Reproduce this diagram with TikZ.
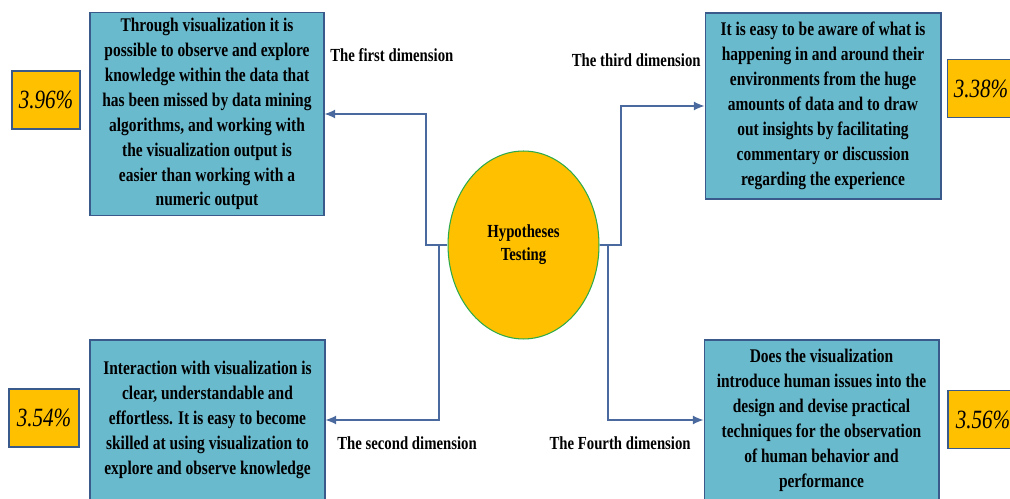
\documentclass[tikz,border=0pt]{standalone}
\usepackage{fontspec}
\setmainfont{Liberation Serif}[FakeStretch=0.8]
\usetikzlibrary{arrows.meta}
\usetikzlibrary{positioning}
\usetikzlibrary{shapes.geometric}

\definecolor{boxblue}{RGB}{106,186,206}
\definecolor{boxedge}{RGB}{59,90,140}
\definecolor{gold}{RGB}{255,192,0}
\definecolor{ringgreen}{RGB}{46,170,74}
\definecolor{linkblue}{RGB}{74,106,159}

\tikzset{
    dimbox/.style={
        rectangle, draw=boxedge, semithick,
        fill=boxblue, align=center,
        font=\fontsize{11}{14.2}\selectfont\bfseries,
    },
    scorebox/.style={
        rectangle, draw=boxedge, semithick,
        fill=gold, minimum width=1.4cm, minimum height=1.16cm,
        font=\fontsize{15}{18}\selectfont\itshape,
    },
    dimlabel/.style={
        inner sep=0pt,
        font=\fontsize{10.5}{12}\selectfont\bfseries,
    },
    link/.style={
        draw=linkblue, semithick,
        -{Latex[length=6pt,width=5pt]},
    },
}

\begin{document}
\begin{tikzpicture}[x=0.02cm, y=-0.02cm]
        \useasboundingbox (0,0) rectangle (1010,499);

        % centre
        \node (hyp) at(523.5,245) [
            ellipse, draw=ringgreen, semithick,
            fill=gold,
            minimum width=3.02cm, minimum height=3.76cm,
            font=\fontsize{10.5}{13}\selectfont\bfseries, align=center,
        ] {Hypotheses\\Testing};

        % dimensions
        \node (first) at(207,114) [
            dimbox, minimum width=4.68cm, minimum height=4.04cm,
        ] {Through visualization it is\\
           possible to observe and explore\\
           knowledge within the data that\\
           has been missed by data mining\\
           algorithms, and working with\\
           the visualization output is\\
           easier than working with a\\
           numeric output};

        \node (third) at(823,106) [
            dimbox, minimum width=4.72cm, minimum height=3.72cm,
        ] {It is easy to be aware of what is\\
           happening in and around their\\
           environments from the huge\\
           amounts of data and to draw\\
           out insights by facilitating\\
           commentary or discussion\\
           regarding the experience};

        \node (second) at(207.5,420) [
            dimbox, minimum width=4.7cm, minimum height=3.2cm,
        ] {Interaction with visualization is\\
           clear, understandable and\\
           effortless. It is easy to become\\
           skilled at using visualization to\\
           explore and observe knowledge};

        \node (fourth) at(821.5,420) [
            dimbox, minimum width=4.7cm, minimum height=3.2cm,
        ] {Does the visualization\\
           introduce human issues into the\\
           design and devise practical\\
           techniques for the observation\\
           of human behavior and\\
           performance};

        % scores
        \node (firstscore) at(46,100) [scorebox, minimum width=1.36cm] {3.96\%};
        \node (thirdscore) at(981,88.5) [scorebox, minimum width=1.2cm] {3.38\%};
        \node (secondscore) at(44,418) [scorebox] {3.54\%};
        \node (fourthscore) at(983,419.5) [scorebox] {3.56\%};

        % labels
        \node (firstlabel) at(330,55) [dimlabel, anchor=west] {The first dimension};
        \node (thirdlabel) at(701,60) [dimlabel, anchor=east] {The third dimension};
        \node (secondlabel) at(337,443) [dimlabel, anchor=west] {The second dimension};
        \node (fourthlabel) at(691,443) [dimlabel, anchor=east] {The Fourth dimension};

        % connectors
        \coordinate (leftbend) at(426,245);
        \coordinate (leftdrop) at(439,245);
        \coordinate (rightbend) at(621,245);
        \coordinate (rightdrop) at(608,245);

        \draw[link] (hyp.west) -- (leftbend) |- (first.east);
        \draw[link] (leftdrop) |- (second.east);
        \draw[link] (hyp.east) -- (rightbend) |- (third.west);
        \draw[link] (rightdrop) |- (fourth.west);
    \end{tikzpicture}
\end{document}
